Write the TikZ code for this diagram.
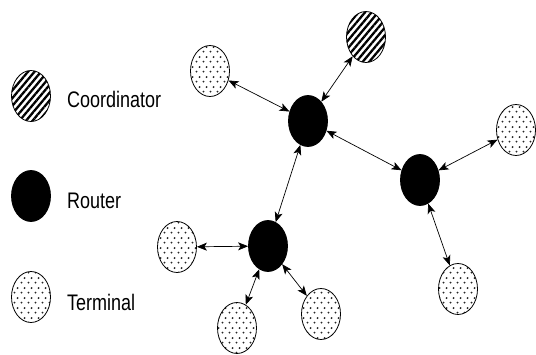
\documentclass[tikz,border=0pt]{standalone}
\usepackage{fontspec}
\setmainfont{Liberation Sans}
\usetikzlibrary{shapes.geometric,patterns,patterns.meta,arrows.meta}
\pgfdeclarepatternformonly{tdots}{\pgfpoint{0pt}{0pt}}{\pgfpoint{6.5pt}{10pt}}{\pgfpoint{6.5pt}{10pt}}{%
  \pgfpathcircle{\pgfpoint{1.625pt}{2.5pt}}{1.1pt}%
  \pgfpathcircle{\pgfpoint{4.875pt}{7.5pt}}{1.1pt}%
  \pgfusepath{fill}}
\tikzset{
  blob/.style={ellipse, draw=black, line width=0.8pt, minimum width=39pt, minimum height=51pt, inner sep=0pt},
  coordnode/.style={blob, pattern={Lines[angle=50,distance=5pt,line width=2.3pt]}},
  routernode/.style={blob, fill=black},
  termnode/.style={blob, pattern=tdots, pattern color=black!85},
  link/.style={line width=0.7pt, {Stealth[length=10pt,width=8pt,inset=2.5pt]}-{Stealth[length=10pt,width=8pt,inset=2.5pt]}},
  legtext/.style={anchor=west, inner sep=0pt, font=\fontsize{18}{20}\selectfont}
}
\begin{document}
\begin{tikzpicture}[x=1pt,y=-1pt]
\useasboundingbox (0,0) rectangle (536,354);
% legend
\node[coordnode] (lc) at (31,96) {};
\node[routernode] (lr) at (31,196) {};
\node[termnode] (lt) at (31,297) {};
\node[legtext] (tc) at (67,99) {\scalebox{1}[1.25]{Coordinator}};
\node[legtext] (trr) at (67,201) {\scalebox{1}[1.25]{Router}};
\node[legtext] (tt) at (67,302) {\scalebox{1}[1.25]{Terminal}};
% network
\node[termnode] (ttl) at (210,71) {};
\node[coordnode] (co) at (366,37) {};
\node[routernode] (r1) at (308,121) {};
\node[termnode] (tr) at (516,130) {};
\node[routernode] (r2) at (420,180) {};
\node[termnode] (tbr) at (458,289) {};
\node[routernode] (r3) at (268,246) {};
\node[termnode] (tbm) at (321,314) {};
\node[termnode] (tl) at (177,247) {};
\node[termnode] (tb) at (237,328) {};
\draw[link] (ttl) -- (r1);
\draw[link] (co) -- (r1);
\draw[link] (r1) -- (r2);
\draw[link] (r2) -- (tr);
\draw[link] (r2) -- (tbr);
\draw[link] (r1) -- (r3);
\draw[link] (r3) -- (tl);
\draw[link] (r3) -- (tb);
\draw[link] (r3) -- (tbm);
\end{tikzpicture}
\end{document}
